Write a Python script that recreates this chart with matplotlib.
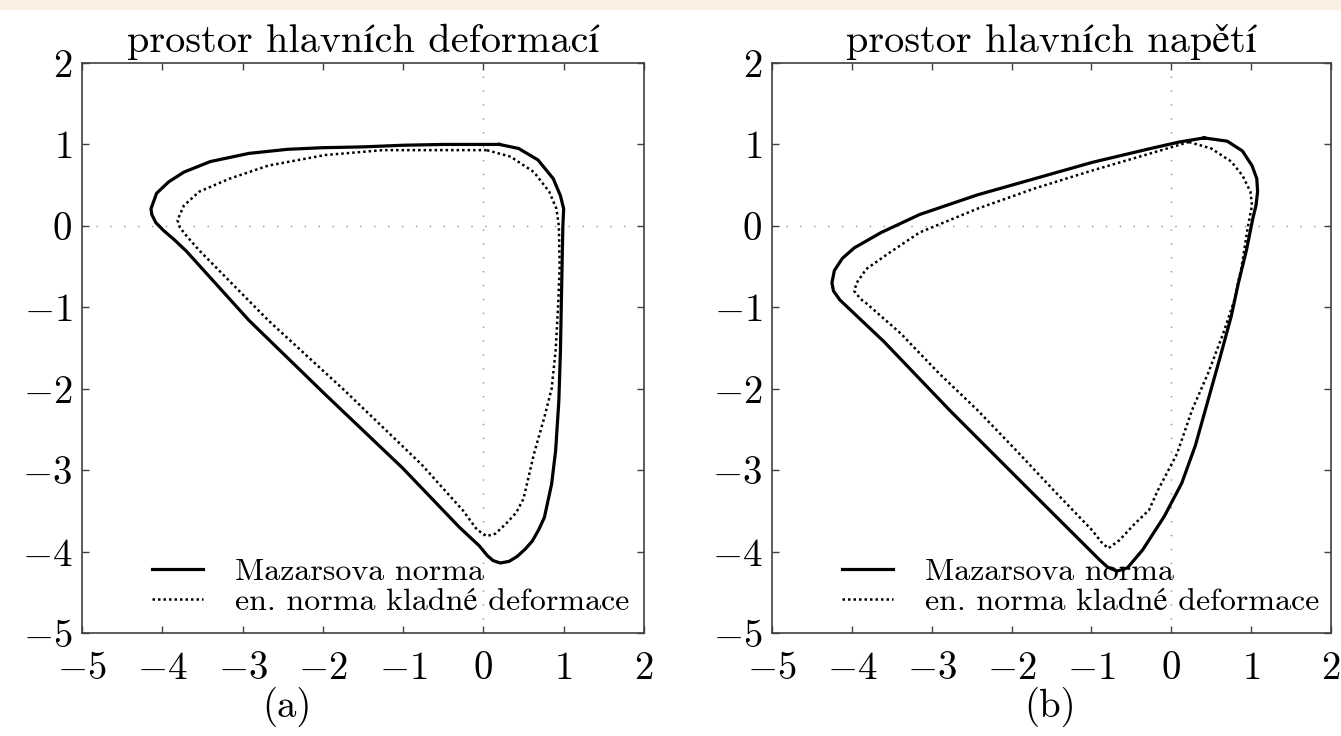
# -*- coding: utf-8 -*-

#---------------------------------------------------------------------
# Libraries
#---------------------------------------------------------------------
import matplotlib as mpl
mpl.use('Agg')
import matplotlib.pyplot as plt
from matplotlib.patches import Rectangle


#---------------------------------------------------------------------
# Data
#---------------------------------------------------------------------
x_ticks = [-5, -4, -3, -2, -1, 0, 1, 2]
y_ticks = [-5, -4, -3, -2, -1, 0, 1, 2]

titles = ['prostor hlavních deformací', 'prostor hlavních napětí']
tags = ['(a)', '(b)']
labels = ['Mazarsova norma', 'en. norma kladné deformace']

# (a) strain space - Mazars norm
maz_a_x = [0.20, 0.00, -0.50, -1.00, -1.50, -2.00, -2.44, -2.92, -3.40, -3.73,
           -3.92, -4.07, -4.14, -4.13, -4.08, -3.98, -3.85, -3.70, -2.92, -1.97,
           -1.01, -0.30, -0.05, 0.05, 0.12, 0.21, 0.32, 0.42, 0.52, 0.61,
           0.69, 0.76, 0.85, 0.90, 0.94, 0.96, 0.97, 0.98, 0.99, 1.00,
           0.96, 0.87, 0.68, 0.44, 0.20]
maz_a_y = [1.00, 1.00, 1.00, 0.99, 0.97, 0.96, 0.94, 0.89, 0.79, 0.66,
           0.54, 0.40, 0.21, 0.14, 0.04, -0.06, -0.17, -0.31, -1.16, -2.07,
           -2.97, -3.70, -3.93, -4.05, -4.11, -4.14, -4.12, -4.06, -3.97, -3.87,
           -3.73, -3.58, -3.17, -2.76, -2.15, -1.53, -1.00, -0.50, 0.00, 0.21,
           0.37, 0.58, 0.81, 0.95, 1.00]

# (a) strain space - energy norm of positive strain
en_a_x = [0.04, -0.50, -1.25, -1.97, -2.68, -3.16, -3.54, -3.73, -3.81, -3.78,
          -3.70, -3.54, -2.68, -1.73, -0.77, -0.25, -0.08, 0.04, 0.15, 0.28,
          0.41, 0.50, 0.63, 0.76, 0.85, 0.90, 0.93, 0.95, 0.94, 0.91,
          0.82, 0.63, 0.34, 0.04]
en_a_y = [0.93, 0.93, 0.93, 0.87, 0.74, 0.58, 0.42, 0.25, 0.07, -0.02,
          -0.12, -0.30, -1.16, -2.02, -2.93, -3.50, -3.73, -3.81, -3.78, -3.66,
          -3.52, -3.35, -2.80, -2.35, -2.00, -1.53, -1.00, -0.50, 0.00, 0.21,
          0.42, 0.66, 0.85, 0.93]

# (b) stress space - Mazars norm
maz_b_x = [0.41, 0.10, -0.26, -0.99, -1.71, -2.43, -3.15, -3.63, -3.97, -4.12,
           -4.22, -4.25, -4.23, -4.15, -3.60, -2.77, -1.74, -1.31, -0.90, -0.80,
           -0.68, -0.55, -0.36, -0.09, 0.13, 0.30, 0.46, 0.60, 0.75, 0.84,
           0.94, 1.02, 1.06, 1.08, 1.07, 1.01, 0.89, 0.70, 0.41]
maz_b_y = [1.08, 1.03, 0.95, 0.78, 0.58, 0.38, 0.14, -0.08, -0.27, -0.40,
           -0.55, -0.70, -0.80, -0.91, -1.42, -2.27, -3.28, -3.70, -4.10, -4.19,
           -4.24, -4.20, -3.98, -3.57, -3.16, -2.70, -2.14, -1.65, -1.11, -0.70,
           -0.30, 0.09, 0.25, 0.42, 0.58, 0.74, 0.92, 1.04, 1.08]

# (b) stress space - energy norm of positive strain
en_b_x = [0.22, -0.26, -0.99, -1.71, -2.43, -3.15, -3.53, -3.82, -3.94, -3.97,
          -3.89, -3.82, -3.39, -2.91, -2.43, -1.95, -1.47, -0.99, -0.88, -0.79,
          -0.65, -0.46, -0.28, -0.17, 0.07, 0.26, 0.46, 0.65, 0.79, 0.88,
          0.96, 1.01, 0.99, 0.89, 0.75, 0.50, 0.22]
en_b_y = [1.03, 0.89, 0.68, 0.46, 0.21, -0.08, -0.33, -0.53, -0.70, -0.80,
          -0.90, -0.95, -1.32, -1.81, -2.26, -2.75, -3.25, -3.74, -3.88, -3.96,
          -3.86, -3.66, -3.49, -3.25, -2.80, -2.26, -1.81, -1.32, -0.91, -0.50,
          0.00, 0.25, 0.42, 0.62, 0.79, 0.95, 1.03]


#---------------------------------------------------------------------
# One panel
#---------------------------------------------------------------------
def PlotPanel(ax, maz_x, maz_y, en_x, en_y, title):

	# sparse dotted zero lines
	ax.axhline(0, color='0.55', lw=1.0, ls=(0, (1, 9)), zorder=1)
	ax.axvline(0, color='0.55', lw=1.0, ls=(0, (1, 9)), zorder=1)

	# curves
	ax.plot(maz_x, maz_y, color='k', lw=2.3, label=labels[0],
	        solid_joinstyle='round', zorder=3)
	ax.plot(en_x, en_y, color='k', lw=1.8, ls=(0, (1, 1.2)), label=labels[1],
	        zorder=2)

	# axes
	ax.set_xlim(-5, 2)
	ax.set_ylim(-5, 2)
	ax.set_xticks(x_ticks)
	ax.set_yticks(y_ticks)
	ax.tick_params(direction='in', top=True, right=True, length=5, width=1,
	               labelsize=28, colors='0.25', labelcolor='k')
	ax.tick_params(axis='x', pad=13)
	ax.tick_params(axis='y', pad=7)
	for sp in ax.spines.values():
		sp.set_linewidth(1.2)
		sp.set_color('0.25')

	ax.set_title(title, fontsize=29, pad=8)

	ax.legend(loc='lower left', bbox_to_anchor=(0.125, 0.03), frameon=False,
	          fontsize=23, handlelength=1.6, handletextpad=1.0,
	          labelspacing=0.05, borderaxespad=0, borderpad=0)


#---------------------------------------------------------------------
# Entry Point
#---------------------------------------------------------------------
plt.rcParams['font.family'] = ['cmr10', 'STIXGeneral']
plt.rcParams['mathtext.fontset'] = 'cm'
plt.rcParams['axes.formatter.use_mathtext'] = True

fig = plt.figure(figsize=(13.41, 7.36), dpi=100)

# beige strip at the very top of the scan
fig.patches.append(Rectangle((0, 1 - 9 / 736), 1, 9 / 736,
                             transform=fig.transFigure, color='#F9EFE3',
                             zorder=0))

ax_a = fig.add_axes([0.0611, 0.1399, 0.4191, 0.7745])
ax_b = fig.add_axes([0.5757, 0.1399, 0.4169, 0.7745])

PlotPanel(ax_a, maz_a_x, maz_a_y, en_a_x, en_a_y, titles[0])
PlotPanel(ax_b, maz_b_x, maz_b_y, en_b_x, en_b_y, titles[1])

# sub-figure captions under the tick labels
fig.text(287 / 1341, 1 - 707 / 736, tags[0], ha='center', va='center',
         fontsize=28)
fig.text(1050 / 1341, 1 - 707 / 736, tags[1], ha='center', va='center',
         fontsize=28)

fig.savefig('out.png', dpi=100)
